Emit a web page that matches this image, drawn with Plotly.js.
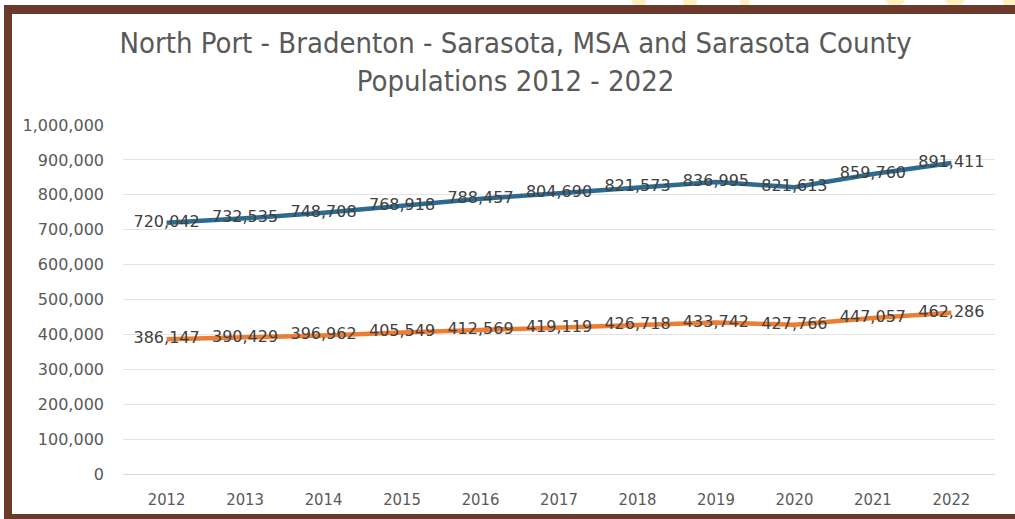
<!DOCTYPE html>
<html>
<head>
<meta charset="utf-8">
<script src="https://cdn.plot.ly/plotly-3.0.1.min.js"></script>
<style>
  html, body { margin:0; padding:0; background:#ffffff; }
  #wrap { position:relative; width:1015px; height:519px; overflow:hidden; background:#ffffff; }
  #chart { position:absolute; left:0; top:0; width:1015px; height:519px; }
  .bar { position:absolute; background:#6b3a2a; z-index:5; }
  .dot { position:absolute; background:#fcefc2; border-radius:50%; z-index:4; }
</style>
</head>
<body>
<div id="wrap">
  <div id="chart"></div>
  <div class="dot" style="left:632px; top:-6px; width:14px; height:14px;"></div>
  <div class="dot" style="left:683px; top:-4px; width:14px; height:14px;"></div>
  <div class="dot" style="left:740px; top:-2px; width:10px; height:10px;"></div>
  <div class="dot" style="left:885px; top:-8px; width:20px; height:14px;"></div>
  <div class="dot" style="left:945px; top:-8px; width:20px; height:14px;"></div>
  <div class="dot" style="left:1003px; top:-6px; width:16px; height:14px;"></div>
  <div class="bar" style="left:4px; top:5px; width:1011px; height:9px;"></div>
  <div class="bar" style="left:4px; top:5px; width:8px; height:514px;"></div>
  <div class="bar" style="left:4px; top:514px; width:1011px; height:5px;"></div>
</div>
<script>
const years = ["2012","2013","2014","2015","2016","2017","2018","2019","2020","2021","2022"];
const msaPop = [720042, 732535, 748708, 768918, 788457, 804690, 821573, 836995, 821613, 859760, 891411];
const countyPop = [386147, 390429, 396962, 405549, 412569, 419119, 426718, 433742, 427766, 447057, 462286];
const yTickVals = [0,100000,200000,300000,400000,500000,600000,700000,800000,900000,1000000];
const yTickText = ["0","100,000","200,000","300,000","400,000","500,000","600,000","700,000","800,000","900,000","1,000,000"];
const titleText = "North Port - Bradenton - Sarasota, MSA and Sarasota County<br>Populations 2012 - 2022";

const fmt = v => v.toLocaleString('en-US');

const labelFont = {family:"DejaVu Sans, sans-serif", size:16, color:"#404040"};

const traces = [
  {
    x: years, y: msaPop, type:"scatter", mode:"lines+text",
    name:"North Port - Bradenton - Sarasota MSA",
    line:{color:"#2c6a90", width:4.5},
    text: msaPop.map(fmt), textposition:"middle center",
    textfont: labelFont, cliponaxis:false, hoverinfo:"x+y"
  },
  {
    x: years, y: countyPop, type:"scatter", mode:"lines+text",
    name:"Sarasota County",
    line:{color:"#ed7d31", width:4.5},
    text: countyPop.map(fmt), textposition:"middle center",
    textfont: labelFont, cliponaxis:false, hoverinfo:"x+y"
  }
];

const layout = {
  width:1015, height:519,
  margin:{l:123, r:20, t:125, b:45},
  paper_bgcolor:"rgba(0,0,0,0)",
  plot_bgcolor:"#ffffff",
  showlegend:false,
  title:{
    text:titleText, x:0.508, xanchor:"center", y:0.898, yanchor:"middle",
    font:{family:"DejaVu Sans Condensed, Liberation Sans Narrow, Arial Narrow, sans-serif", size:29, color:"#595959"}
  },
  xaxis:{
    type:"category", showgrid:false, zeroline:false, showline:false,
    ticks:"", tickfont:{family:"DejaVu Sans Condensed, Liberation Sans Narrow, sans-serif", size:16.5, color:"#595959"},
    ticklabelstandoff:13
  },
  yaxis:{
    range:[0,1000000], tickvals:yTickVals, ticktext:yTickText,
    showgrid:true, gridcolor:"#e3e3e3", gridwidth:1,
    zeroline:true, zerolinecolor:"#d9d9d9", zerolinewidth:1,
    showline:false, ticks:"",
    tickfont:{family:"DejaVu Sans, sans-serif", size:16, color:"#595959"},
    ticklabelstandoff:18
  }
};

Plotly.newPlot("chart", traces, layout, {displayModeBar:false, staticPlot:true});
</script>
</body>
</html>
